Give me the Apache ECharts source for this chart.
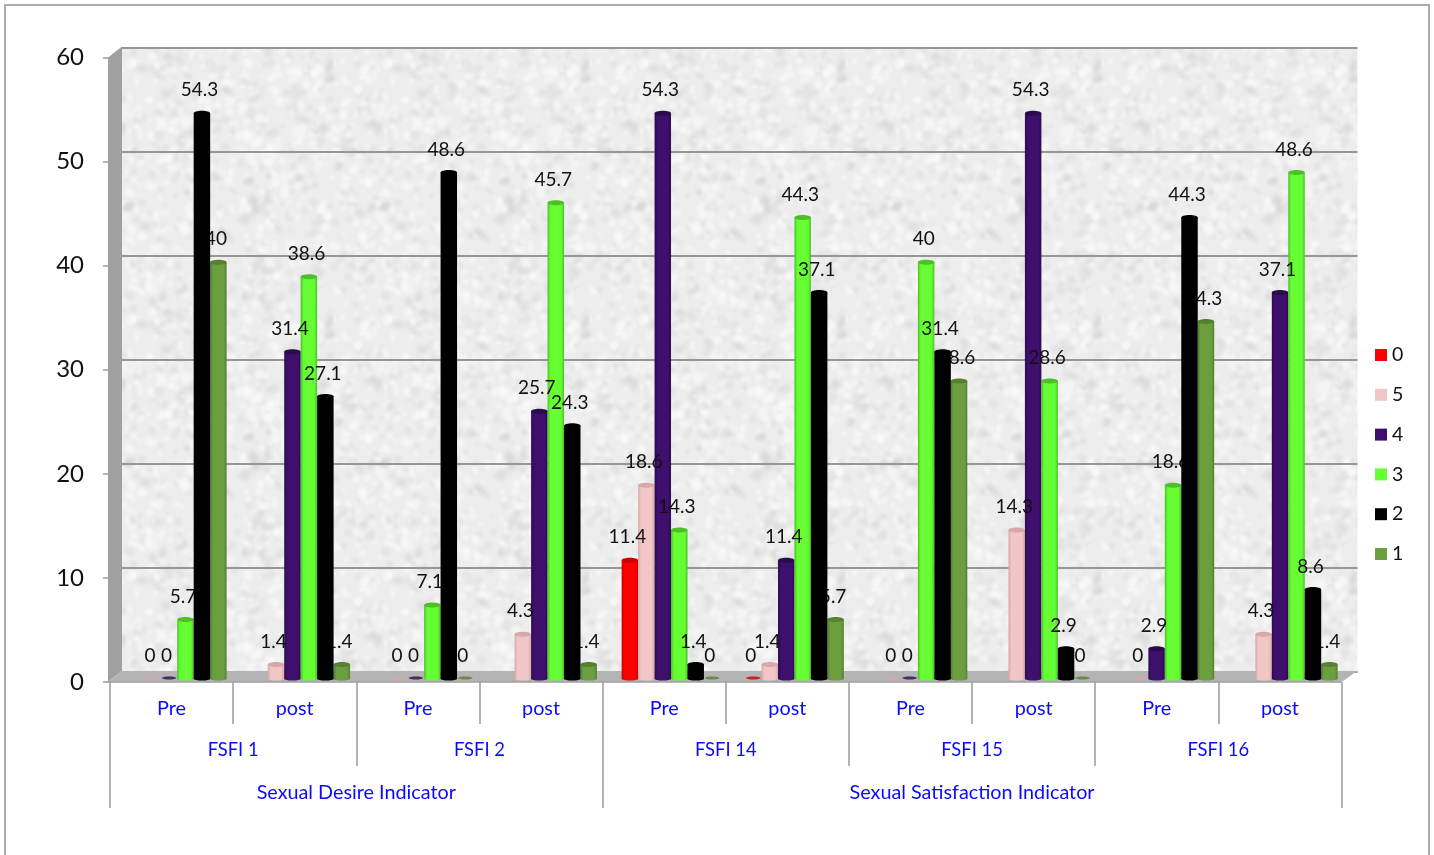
<!DOCTYPE html>
<html>
<head>
<meta charset="utf-8">
<title>FSFI chart</title>
<script src="https://cdn.jsdelivr.net/npm/echarts@6/dist/echarts.min.js"></script>
<style>
  html, body { margin: 0; padding: 0; background: #fff; overflow: hidden; }
  #chart { width: 1434px; height: 855px; }
</style>
</head>
<body>
<div id="chart"></div>
<script>
const visits = ['Pre', 'post', 'Pre', 'post', 'Pre', 'post', 'Pre', 'post', 'Pre', 'post']
const items = ['FSFI 1', 'FSFI 2', 'FSFI 14', 'FSFI 15', 'FSFI 16']
const indicators = ['Sexual Desire Indicator', 'Sexual Satisfaction Indicator']

// null = no label and no bar in the picture
const score0 = [null, null, null, null, 11.4, 0, null, null, null, null]
const score5 = [0, 1.4, 0, 4.3, 18.6, 1.4, 0, 14.3, 0, 4.3]
const score4 = [0, 31.4, 0, 25.7, 54.3, 11.4, 0, 54.3, 2.9, 37.1]
const score3 = [5.7, 38.6, 7.1, 45.7, 14.3, 44.3, 40, 28.6, 18.6, 48.6]
const score2 = [54.3, 27.1, 48.6, 24.3, 1.4, 37.1, 31.4, 2.9, 44.3, 8.6]
const score1 = [40, 1.4, 0, 1.4, 0, 5.7, 28.6, 0, 34.3, 1.4]

const chartFont = 'Lato'

// barZ / labelZ: the black bars cover every other label, all other labels float over the bars
const scores = [
  { name: '0', values: score0, color: '#ff0000', edge: '#c80000', barZ: 1, labelZ: 10 },
  { name: '5', values: score5, color: '#f0c6c6', edge: '#d8a8a8', barZ: 1, labelZ: 10 },
  { name: '4', values: score4, color: '#3e0f6c', edge: '#2c0a4e', barZ: 1, labelZ: 10 },
  { name: '3', values: score3, color: '#66ff33', edge: '#4cc026', barZ: 1, labelZ: 10 },
  { name: '2', values: score2, color: '#000000', edge: '#000000', barZ: 20, labelZ: 30 },
  { name: '1', values: score1, color: '#6a9e3e', edge: '#55802f', barZ: 1, labelZ: 10 }
]

// speckled paper look of the back wall
function wallTexture() {
  const size = 256
  const c = document.createElement('canvas')
  c.width = c.height = size
  const ctx = c.getContext('2d')
  ctx.fillStyle = '#ededed'
  ctx.fillRect(0, 0, size, size)
  let seed = 20517
  const next = () => {
    seed = (seed + 0x6D2B79F5) | 0
    let t = Math.imul(seed ^ (seed >>> 15), 1 | seed)
    t = (t + Math.imul(t ^ (t >>> 7), 61 | t)) ^ t
    return ((t ^ (t >>> 14)) >>> 0) / 4294967296
  }
  ctx.filter = 'blur(1.5px)'
  for (let i = 0; i < 1100; i++) {
    const x = next() * size
    const y = next() * size
    const r = 1.5 + next() * 3.5
    ctx.fillStyle = next() > 0.4 ? 'rgba(255,255,255,0.4)' : 'rgba(195,195,195,0.22)'
    // repeat over the tile edges so the pattern has no seam
    for (const dx of [-size, 0, size]) {
      for (const dy of [-size, 0, size]) {
        ctx.beginPath()
        ctx.arc(x + dx, y + dy, r, 0, Math.PI * 2)
        ctx.fill()
      }
    }
  }
  return c
}

function renderWalls(params, api) {
  const topLeft = api.coord([0, 60])
  const bottomLeft = api.coord([0, 0])
  const bottomRight = api.coord([10, 0])
  const x0 = bottomLeft[0] - 2
  const y0 = bottomLeft[1]
  const backX = bottomLeft[0] + 12
  const backRight = bottomRight[0] + 16
  const backY = y0 - 11
  return {
    type: 'group',
    children: [
      {
        type: 'polygon',
        shape: { points: [[x0, topLeft[1]], [backX, topLeft[1] - 11], [backX, backY], [x0, y0]] },
        style: { fill: '#a0a0a0' }
      },
      {
        type: 'polygon',
        shape: { points: [[x0, y0], [bottomRight[0], y0], [backRight, backY], [backX, backY]] },
        style: { fill: '#b4b4b4' }
      },
      {
        type: 'line',
        shape: { x1: x0, y1: y0, x2: bottomRight[0], y2: y0 },
        style: { stroke: '#a0a0a0', lineWidth: 1.5 }
      }
    ]
  }
}

function barRenderer(slot, score) {
  return function (params, api) {
    const cat = api.value(0)
    const val = api.value(1)
    const band = api.size([1, 0])[0]
    const w = band * 0.8 / 6
    const top = api.coord([cat, val])
    const base = api.coord([cat, 0])
    const x = top[0] - 3 * w + slot * w
    const cx = x + w / 2
    const children = []
    if (val > 0) {
      const body = new echarts.graphic.LinearGradient(0, 0, 1, 0, [
        { offset: 0, color: score.edge },
        { offset: 0.18, color: score.color },
        { offset: 0.82, color: score.color },
        { offset: 1, color: score.edge }
      ])
      children.push({
        type: 'rect',
        z2: score.barZ,
        shape: { x: x, y: top[1], width: w, height: base[1] - top[1] },
        style: { fill: body }
      })
      children.push({
        type: 'ellipse',
        z2: score.barZ,
        shape: { cx: cx, cy: base[1], rx: w / 2, ry: 1.5 },
        style: { fill: body }
      })
      children.push({
        type: 'ellipse',
        z2: score.barZ,
        shape: { cx: cx, cy: top[1], rx: w / 2, ry: 2.5 },
        style: { fill: score.edge }
      })
    } else {
      children.push({
        type: 'ellipse',
        z2: score.barZ,
        shape: { cx: cx, cy: base[1] - 1, rx: w / 2 - 1, ry: 1.5 },
        style: { fill: score.edge, opacity: 0.8 }
      })
    }
    children.push({
      type: 'text',
      z2: score.labelZ,
      style: {
        text: String(val),
        x: cx - 2.5,
        y: top[1] - 23,
        align: 'center',
        verticalAlign: 'middle',
        fill: '#111',
        fontFamily: chartFont,
        fontSize: 19
      }
    })
    return { type: 'group', children: children }
  }
}

function levelAxis(offset, tickValues, labelValues, labels, fontSize) {
  return {
    type: 'value',
    gridIndex: 0,
    position: 'bottom',
    min: 0,
    max: 10,
    offset: offset,
    splitLine: { show: false },
    axisLine: { show: false },
    axisTick: { show: true, customValues: tickValues, length: 42, lineStyle: { color: '#9a9a9a', width: 1.5 } },
    axisLabel: {
      show: true,
      customValues: labelValues,
      margin: 17,
      color: '#0a0aff',
      fontFamily: chartFont,
      fontSize: fontSize,
      verticalAlign: 'top',
      formatter: (v) => labels[labelValues.indexOf(v)]
    }
  }
}

const hiddenAxis = { show: false, splitLine: { show: false } }

const option = {
  animation: false,
  backgroundColor: '#ffffff',
  graphic: [{
    type: 'rect',
    silent: true,
    shape: { x: 5, y: 5, width: 1424, height: 900 },
    style: { fill: 'none', stroke: '#ababab', lineWidth: 2 }
  }],
  legend: {
    orient: 'vertical',
    left: 1370,
    top: 340,
    icon: 'rect',
    itemWidth: 12,
    itemHeight: 12,
    itemGap: 19.8,
    selectedMode: false,
    data: scores.map(s => s.name),
    textStyle: { color: '#111', fontFamily: chartFont, fontSize: 19.5, lineHeight: 20 }
  },
  grid: [
    { left: 110, width: 1231.5, top: 57.5, height: 624.5, outerBoundsMode: 'none' },
    { left: 122, width: 1235.5, top: 47.5, height: 624.5, outerBoundsMode: 'none', show: true, borderWidth: 0,
      backgroundColor: { image: wallTexture(), repeat: 'repeat' } },
    { left: 115.5, width: 1234.5, top: 53.8, height: 625.2, outerBoundsMode: 'none' }
  ],
  xAxis: [
    levelAxis(0, [0, 1, 2, 3, 4, 5, 6, 7, 8, 9, 10], [0.5, 1.5, 2.5, 3.5, 4.5, 5.5, 6.5, 7.5, 8.5, 9.5], visits, 19.8),
    levelAxis(42, [0, 2, 4, 6, 8, 10], [1, 3, 5, 7, 9], items, 18.4),
    levelAxis(84, [0, 4, 10], [2, 7], indicators, 19.8),
    Object.assign({ type: 'value', gridIndex: 1, min: 0, max: 10 }, hiddenAxis),
    Object.assign({ type: 'category', gridIndex: 2, data: visits }, hiddenAxis)
  ],
  yAxis: [
    {
      type: 'value',
      gridIndex: 0,
      min: 0,
      max: 60,
      interval: 10,
      offset: 2,
      splitLine: { show: false },
      axisLine: { show: false },
      axisTick: { show: true, length: 7, lineStyle: { color: '#9a9a9a', width: 1.5 } },
      axisLabel: { margin: 24, color: '#111', fontFamily: chartFont, fontSize: 24, padding: [3, 0, 0, 0] }
    },
    {
      type: 'value',
      gridIndex: 1,
      min: 0,
      max: 60,
      interval: 10,
      axisLine: { show: false },
      axisTick: { show: false },
      axisLabel: { show: false },
      splitLine: { show: true, lineStyle: { color: '#969696', width: 2 } }
    },
    Object.assign({ type: 'value', gridIndex: 2, min: 0, max: 60 }, hiddenAxis)
  ],
  series: [
    {
      name: 'walls',
      type: 'custom',
      xAxisIndex: 0,
      yAxisIndex: 0,
      z: 1,
      silent: true,
      clip: false,
      data: [[0, 0]],
      renderItem: renderWalls
    }
  ].concat(scores.map((s, slot) => ({
    name: s.name,
    type: 'custom',
    xAxisIndex: 4,
    yAxisIndex: 2,
    z: 2,
    clip: false,
    itemStyle: { color: s.color },
    encode: { x: 0, y: 1 },
    data: s.values.map((v, i) => [i, v]).filter(d => d[1] !== null),
    renderItem: barRenderer(slot, s)
  })))
}

const chart = echarts.init(document.getElementById('chart'))
chart.setOption(option)
</script>
</body>
</html>
